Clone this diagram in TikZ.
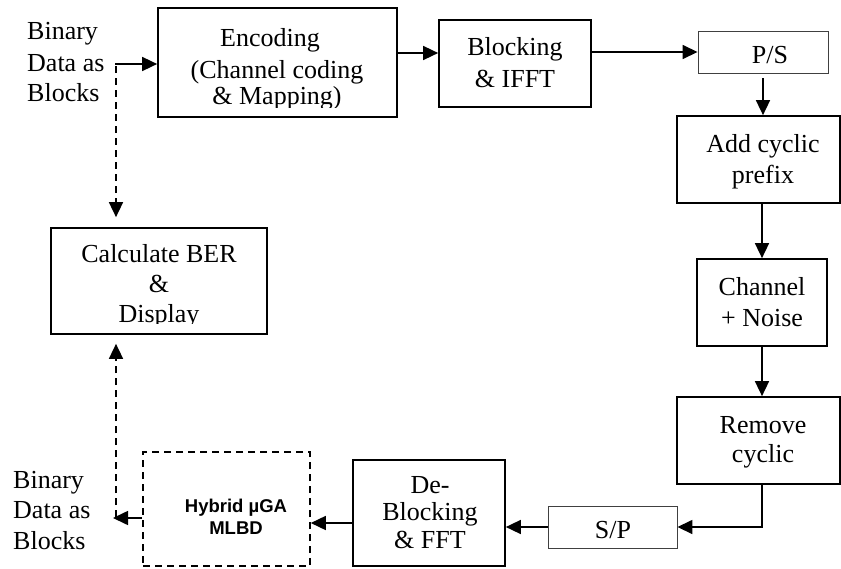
\documentclass[tikz,border=0pt]{standalone}
\usepackage{fontspec}
\setmainfont{Liberation Serif}
\newfontfamily\arialf{Liberation Sans}
\usetikzlibrary{arrows.meta}
\begin{document}
\begin{tikzpicture}[x=1pt,y=-1pt,
  blkbox/.style={draw=black, line width=1.7pt, inner sep=0pt},
  thinbox/.style={draw=black!75, line width=0.9pt, inner sep=0pt},
  dashbox/.style={draw=black, line width=1.6pt, dash pattern=on 7pt off 5pt, inner sep=0pt},
  txt/.style={font=\fontsize{26}{31}\selectfont, inner sep=0pt, anchor=base},
  ltxt/.style={txt, anchor=base west},
  htxt/.style={font=\arialf\bfseries\fontsize{18.5}{22}\selectfont, inner sep=0pt, anchor=base},
  arr/.style={line width=1.6pt, -{Triangle[length=15pt,width=14pt]}},
  darr/.style={arr, dash pattern=on 7pt off 5pt}]
\useasboundingbox (0,0) rectangle (841,568);

% boxes
\node[blkbox, minimum width=239pt, minimum height=109pt] (enc) at (277.5,62.5) {};
\node[blkbox, minimum width=152pt, minimum height=87pt] (blk) at (515,63.5) {};
\node[thinbox, minimum width=130pt, minimum height=42pt] (ps) at (763,52) {};
\node[blkbox, minimum width=163pt, minimum height=87pt] (add) at (758.5,159.5) {};
\node[blkbox, minimum width=130pt, minimum height=87pt] (ch) at (762,302.5) {};
\node[blkbox, minimum width=163pt, minimum height=87pt] (rem) at (758.5,440.5) {};
\node[thinbox, minimum width=129pt, minimum height=42pt] (sp) at (612.5,527) {};
\node[blkbox, minimum width=152pt, minimum height=106pt] (deb) at (429,513) {};
\node[dashbox, minimum width=167pt, minimum height=114pt] (hyb) at (226.5,509) {};
\node[blkbox, minimum width=216pt, minimum height=106pt] (calc) at (159,281) {};

% texts
\node[ltxt] (bi1) at (27,39) {Binary};
\node[ltxt] (bi2) at (27,71) {Data as};
\node[ltxt] (bi3) at (27,101) {Blocks};
\begin{scope}
\clip (150,0) rectangle (400,107);
\node[txt] (enc1) at (270,46) {Encoding};
\node[txt] (enc2) at (277,78) {(Channel coding};
\node[txt] (enc3) at (277,104) {\& Mapping)};
\end{scope}
\node[txt] (blk1) at (515,55) {Blocking};
\node[txt] (blk2) at (515,87) {\& IFFT};
\begin{scope}
\clip (690,25) rectangle (830,64);
\node[txt] (ps1) at (770,63) {P/S};
\end{scope}
\node[txt] (add1) at (763,152) {Add cyclic};
\node[txt] (add2) at (763,183) {prefix};
\node[txt] (ch1) at (762,295) {Channel};
\node[txt] (ch2) at (762,326) {+ Noise};
\node[txt] (rem1) at (763,433) {Remove};
\node[txt] (rem2) at (763,462) {cyclic};
\node[txt] (sp1) at (613,538) {S/P};
\node[txt] (deb1) at (430,493) {De-};
\node[txt] (deb2) at (430,520) {Blocking};
\node[txt] (deb3) at (430,548) {\& FFT};
\node[htxt] (hyb1) at (236,512) {Hybrid µGA};
\node[htxt] (hyb2) at (236,534) {MLBD};
\begin{scope}
\clip (40,220) rectangle (280,323);
\node[txt] (calc1) at (159,262) {Calculate BER};
\node[txt] (calc2) at (159,292) {\&};
\node[txt] (calc3) at (159,322) {Display};
\end{scope}
\node[ltxt] (bo1) at (13,488) {Binary};
\node[ltxt] (bo2) at (13,518) {Data as};
\node[ltxt] (bo3) at (13,549) {Blocks};

% connectors
\coordinate (inA) at (115,64);
\coordinate (dTop) at (116,66);
\coordinate (dBot) at (116,517);
\coordinate (outA) at (113,518);
\coordinate (yA) at (0,53);
\coordinate (yB) at (0,523);
\coordinate (yC) at (0,518);

\draw[arr] (inA) -- (enc.west |- inA);
\draw[arr] (enc.east |- yA) -- (blk.west |- yA);
\draw[arr] (blk.east |- ps.west) -- (ps.west);
\draw[arr] ([yshift=-5pt]ps.south) -- (add.north -| ps.south);
\draw[arr] (add.south -| ch.north) -- (ch.north);
\draw[arr] (ch.south) -- (rem.north -| ch.south);
\draw[arr] (rem.south -| ch.south) |- (sp.east);
\draw[arr] (sp.west) -- (deb.east |- sp.west);
\draw[arr] (deb.west |- yB) -- (hyb.east |- yB);
\draw[arr] (hyb.west |- yC) -- (outA);
\draw[darr, shorten >=10pt] (dTop) -- (calc.north -| dTop);
\draw[darr, shorten >=9pt] (dBot) -- (calc.south -| dBot);
\end{tikzpicture}
\end{document}
